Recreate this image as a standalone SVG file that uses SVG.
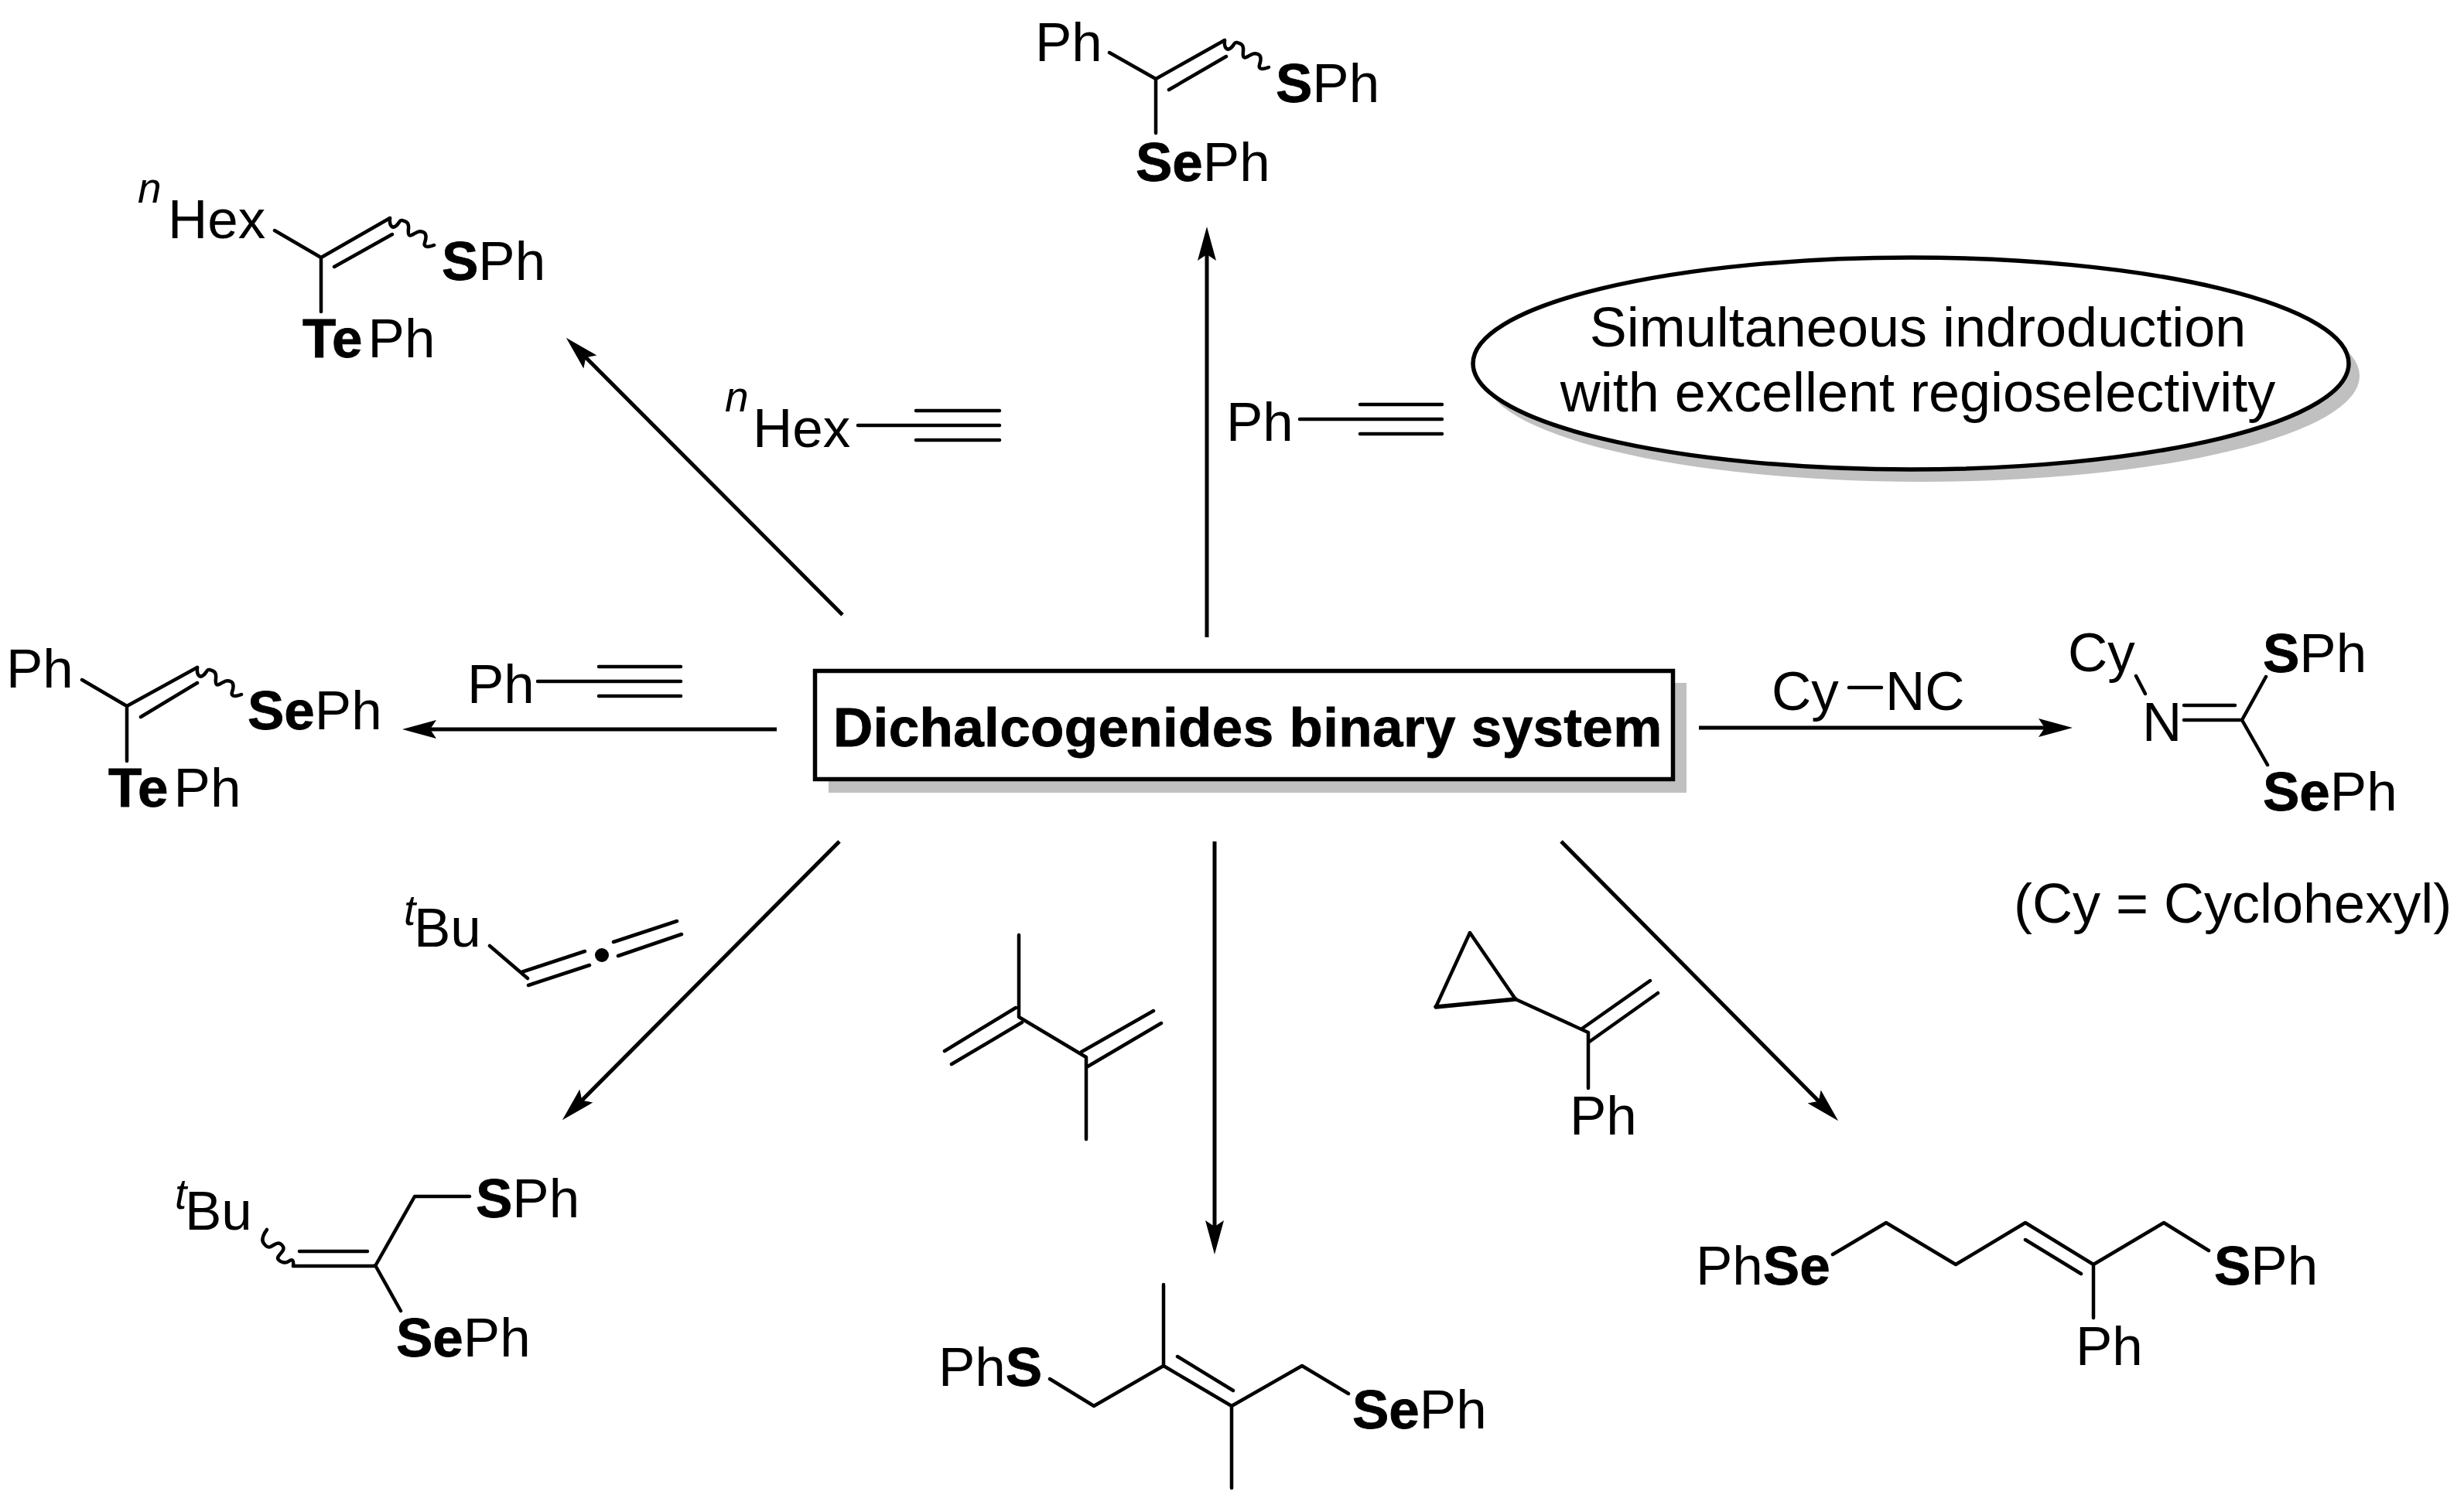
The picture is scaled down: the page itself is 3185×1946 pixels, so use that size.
<svg xmlns="http://www.w3.org/2000/svg" width="3185" height="1946" viewBox="0 0 3185 1946">
<style>
text{font-family:"Liberation Sans",Arial,sans-serif;font-size:71px;fill:#000}
.b{font-weight:bold;stroke:#000;stroke-width:.8}
.note{font-size:72px}
.sup{font-style:italic;font-size:55px}
.bond{fill:none;stroke:#000;stroke-width:4.5;stroke-linecap:round;stroke-linejoin:round}
.thick{stroke-width:5.5}
.arrow{fill:none;stroke:#000;stroke-width:5}
.shadow{fill:#c0c0c0}
.frame{fill:#fff;stroke:#000;stroke-width:5.5}
</style>
<defs>
<marker id="ah" markerUnits="userSpaceOnUse" markerWidth="46" markerHeight="26" refX="15" refY="13" orient="auto"><path d="M1 1L45 13L1 25L9 13Z" fill="#000"/></marker>
<path id="wave-a" class="bond" d="M0 0C-1 10 3 14 8 10S12 2 16 3S25 5 24 14S25 24 30 21S38 16 43 18S47 26 45 32S50 38 57 35"/>
<path id="wave-b" class="bond" d="M0 0C-4 5-7 12-5 16S1 24 5 22S13 16 17 18S23 24 20 28S12 36 15 39S24 44 28 41S35 38 34 47"/>
</defs>
<rect width="3185" height="1946" fill="#fff"/>

<g id="connectors">
<line class="arrow" x1="1560" y1="824" x2="1560" y2="323" marker-end="url(#ah)"/>
<line class="arrow" x1="1089" y1="795" x2="753" y2="458" marker-end="url(#ah)"/>
<line class="arrow" x1="1004" y1="943" x2="550" y2="943" marker-end="url(#ah)"/>
<line class="arrow" x1="2196" y1="941" x2="2649" y2="941" marker-end="url(#ah)"/>
<line class="arrow" x1="1085" y1="1088" x2="748" y2="1427" marker-end="url(#ah)"/>
<line class="arrow" x1="1570" y1="1088" x2="1570" y2="1592" marker-end="url(#ah)"/>
<line class="arrow" x1="2018" y1="1088" x2="2355" y2="1428" marker-end="url(#ah)"/>
</g>

<g id="center-box">
<rect class="shadow" x="1071" y="883" width="1109" height="142"/>
<rect class="frame" x="1053.5" y="867.5" width="1109" height="140"/>
<text class="b" x="1077" y="965" letter-spacing="0.35">Dichalcogenides binary system</text>
</g>

<g id="note-ellipse">
<ellipse class="shadow" cx="2484" cy="486" rx="566" ry="137"/>
<ellipse class="frame" cx="2470" cy="470" rx="566" ry="137"/>
<text class="note" x="2479" y="448" text-anchor="middle">Simultaneous indroduction</text>
<text class="note" x="2479" y="532" text-anchor="middle">with excellent regioselectivity</text>
</g>

<g id="product-top">
<path class="bond" d="M1434 68L1494 102L1583 52M1511 116L1585 73M1494 102V172"/>
<use href="#wave-a" x="1583" y="52"/>
<text x="1338" y="79">Ph</text>
<text x="1649" y="132"><tspan class="b">S</tspan>Ph</text>
<text x="1468" y="234"><tspan class="b">Se</tspan>Ph</text>
</g>

<g id="product-hex">
<path class="bond" d="M355 298L415 333L504 282M432 345L507 303M415 333V403"/>
<use href="#wave-a" x="504" y="282"/>
<text class="sup" x="178" y="262">n</text>
<text x="217" y="308">Hex</text>
<text x="571" y="362"><tspan class="b">S</tspan>Ph</text>
<text x="391" y="462"><tspan class="b">Te</tspan><tspan dx="7">Ph</tspan></text>
</g>

<g id="reagent-hexyne">
<path class="bond" d="M1109 550H1292M1184 531H1292M1184 569H1292"/>
<text class="sup" x="937" y="532">n</text>
<text x="973" y="578">Hex</text>
</g>

<g id="reagent-phenylacetylene-top">
<path class="bond" d="M1680 542H1864M1758 523H1864M1758 561H1864"/>
<text x="1585" y="570">Ph</text>
</g>

<g id="product-left">
<path class="bond" d="M106 879L164 913L255 863M182 927L255 883M164 913V984"/>
<use href="#wave-a" x="255" y="863"/>
<text x="8" y="889">Ph</text>
<text x="320" y="943"><tspan class="b">Se</tspan>Ph</text>
<text x="140" y="1043"><tspan class="b">Te</tspan><tspan dx="7">Ph</tspan></text>
</g>

<g id="reagent-phenylacetylene-left">
<path class="bond" d="M695 881H880M774 862H880M774 900H880"/>
<text x="604" y="909">Ph</text>
</g>

<g id="product-imine">
<path class="bond" d="M2761 874L2773 897M2823 912H2889M2823 931H2898L2929 875M2898 931L2931 989"/>
<text x="2673" y="868">Cy</text>
<text x="2769" y="958">N</text>
<text x="2925" y="869"><tspan class="b">S</tspan>Ph</text>
<text x="2925" y="1048"><tspan class="b">Se</tspan>Ph</text>
<text class="note" x="2603" y="1193">(Cy = Cyclohexyl)</text>
</g>

<g id="reagent-isocyanide">
<path class="bond" d="M2390 889H2432"/>
<text x="2290" y="918">Cy</text>
<text x="2437" y="918">NC</text>
</g>

<g id="reagent-allene">
<path class="bond" d="M633 1223L682 1265M674 1257L756 1230M683 1274L762 1248M793 1218L875 1191M799 1236L881 1208"/>
<circle cx="778" cy="1235" r="9"/>
<text class="sup" x="522" y="1196">t</text>
<text x="535" y="1224">Bu</text>
</g>

<g id="product-allene">
<path class="bond" d="M379 1637H485L536 1547H607M387 1618H475M485 1636L518 1695"/>
<use href="#wave-b" x="345" y="1590"/>
<text class="sup" x="226" y="1563">t</text>
<text x="239" y="1590">Bu</text>
<text x="615" y="1574"><tspan class="b">S</tspan>Ph</text>
<text x="512" y="1754"><tspan class="b">Se</tspan>Ph</text>
</g>

<g id="reagent-diene">
<path class="bond" d="M1317 1209V1315L1404 1367V1473M1313 1303L1221 1359M1321 1322L1230 1376M1398 1360L1491 1307M1406 1379L1501 1323"/>
</g>

<g id="product-diene">
<path class="bond" d="M1357 1783L1414 1818L1504 1766V1661M1504 1766L1592 1818V1924M1522 1754L1594 1798M1592 1818L1683 1766L1743 1802"/>
<text x="1213" y="1792">Ph<tspan class="b">S</tspan></text>
<text x="1748" y="1847"><tspan class="b">Se</tspan>Ph</text>
</g>

<g id="reagent-cyclopropyl">
<path class="bond" d="M1856 1302L1900 1206L1959 1292L2053 1335V1407M2045 1330L2133 1268M2053 1348L2143 1284"/>
<path class="bond thick" d="M1856 1302L1959 1292"/>
<text x="2029" y="1467">Ph</text>
</g>

<g id="product-cyclopropyl">
<path class="bond" d="M2369 1622L2438 1581L2528 1635L2618 1581L2706 1635L2797 1581L2855 1617M2618 1603L2690 1647M2706 1635V1704"/>
<text x="2192" y="1661">Ph<tspan class="b">Se</tspan></text>
<text x="2862" y="1661"><tspan class="b">S</tspan>Ph</text>
<text x="2683" y="1765">Ph</text>
</g>
</svg>
